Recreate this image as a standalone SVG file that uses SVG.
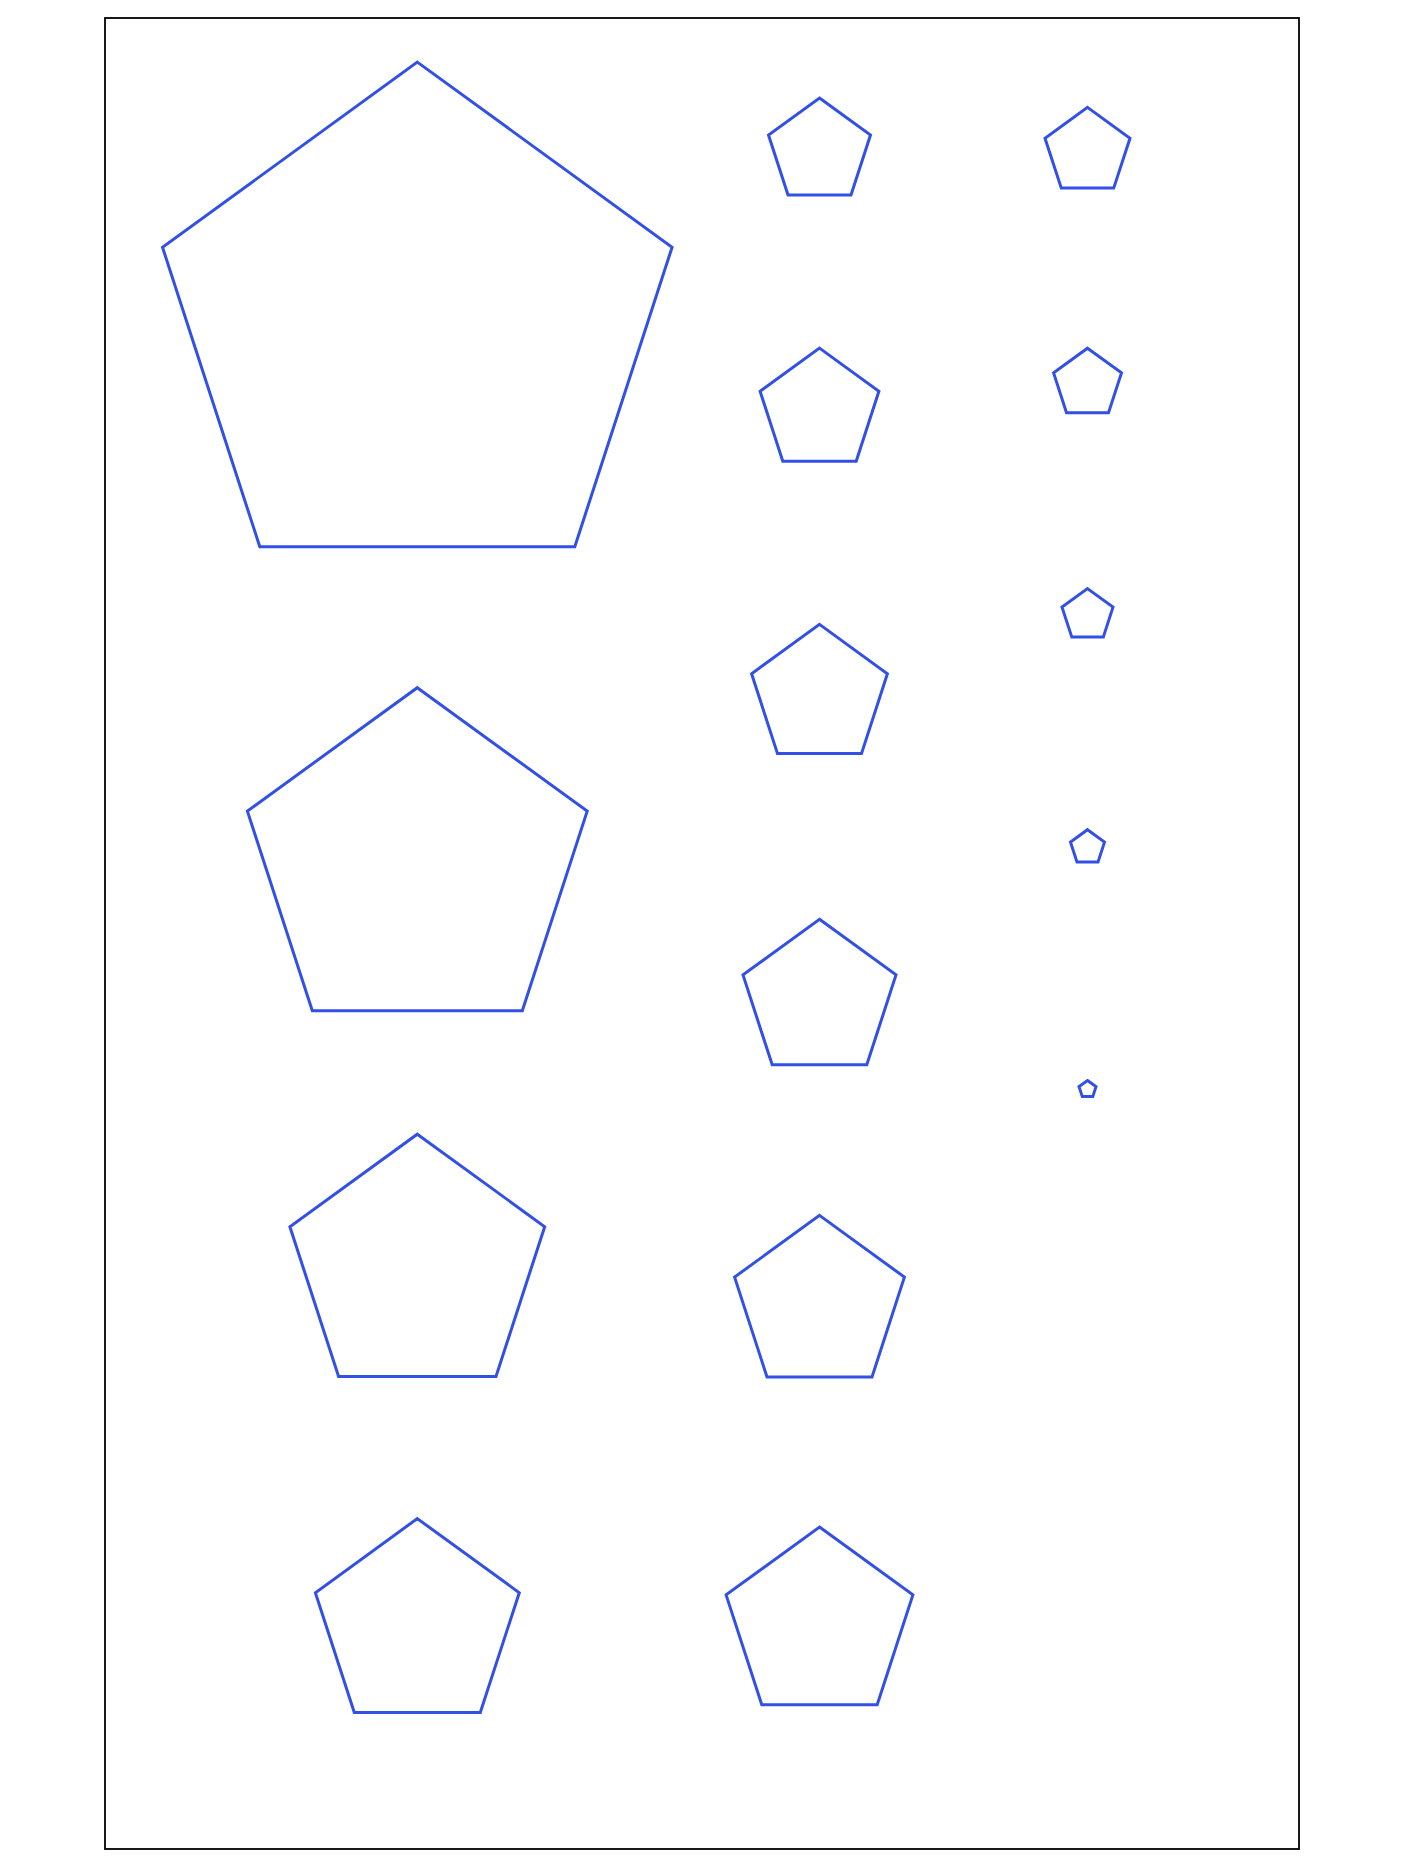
<svg xmlns="http://www.w3.org/2000/svg" width="1404" height="1872" viewBox="0 0 1404 1872">
<style>
.frame{fill:none;stroke:#000;stroke-width:1.8}
.pg{fill:none;stroke:#3350e6;stroke-width:3;stroke-linejoin:miter}
</style>
<rect width="1404" height="1872" fill="#fff"/>
<rect class="frame" x="105" y="18" width="1194" height="1831"/>
<g id="col1">
<polygon id="p1" class="pg" points="417.3,62.1 672.1,247.2 574.8,546.7 259.8,546.7 162.5,247.2"/>
<polygon id="p2" class="pg" points="417.3,687.7 587.2,811.1 522.3,1010.8 312.3,1010.8 247.4,811.1"/>
<polygon id="p3" class="pg" points="417.3,1134.2 544.7,1226.7 496.0,1376.5 338.6,1376.5 289.9,1226.7"/>
<polygon id="p4" class="pg" points="417.3,1518.6 519.3,1592.7 480.3,1712.5 354.3,1712.5 315.4,1592.7"/>
</g>
<g id="col2">
<polygon id="q1" class="pg" points="819.5,98 870.5,135.0 851.0,195.0 788.0,195.0 768.5,135.0"/>
<polygon id="q2" class="pg" points="819.5,348.1 878.9,391.3 856.2,461.2 782.8,461.2 760.1,391.3"/>
<polygon id="q3" class="pg" points="819.5,624.4 887.4,673.7 861.5,753.6 777.5,753.6 751.6,673.7"/>
<polygon id="q4" class="pg" points="819.5,919.3 896.0,974.9 866.8,1064.8 772.2,1064.8 743.0,974.9"/>
<polygon id="q5" class="pg" points="819.5,1215.4 904.4,1277.1 872.0,1377.0 767.0,1377.0 734.6,1277.1"/>
<polygon id="q6" class="pg" points="819.5,1527.0 912.9,1594.9 877.2,1704.7 761.8,1704.7 726.1,1594.9"/>
</g>
<g id="col3">
<polygon id="t1" class="pg" points="1087.5,107.35 1130.0,138.2 1113.7,188.1 1061.3,188.1 1045.0,138.2"/>
<polygon id="t2" class="pg" points="1087.5,348.2 1121.5,372.9 1108.5,412.8 1066.5,412.8 1053.6,372.9"/>
<polygon id="t3" class="pg" points="1087.5,588.6 1113.0,607.1 1103.3,637.1 1071.8,637.1 1062.0,607.1"/>
<polygon id="t4" class="pg" points="1087.5,829.7 1104.5,842.1 1098.0,862.1 1077.0,862.1 1070.5,842.1"/>
<polygon id="t5" class="pg" points="1087.5,1080.5 1096.0,1086.6 1092.8,1096.6 1082.3,1096.6 1079.0,1086.6"/>
</g>
<g id="connectors"/>
</svg>
